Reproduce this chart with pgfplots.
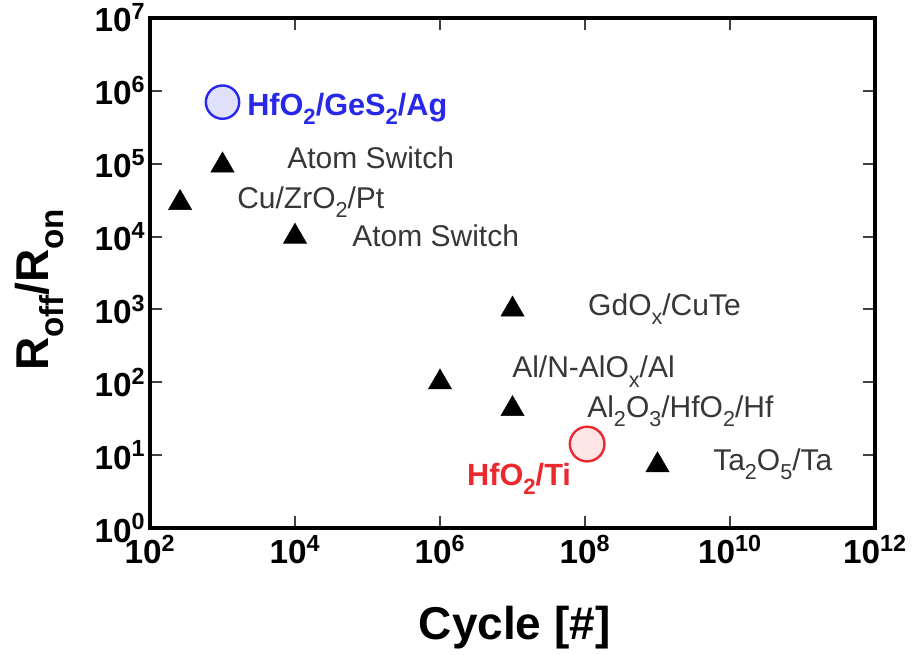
\documentclass[border=0pt]{standalone}
\usepackage{fontspec}
\setmainfont{Liberation Sans}
\usepackage{graphicx}
\usepackage{pgfplots}
\pgfplotsset{compat=1.18}
\definecolor{myblue}{RGB}{40,40,235}
\definecolor{myred}{RGB}{235,40,45}
\definecolor{lblgray}{RGB}{55,55,55}
\newcommand\sub[1]{\raisebox{-0.32em}{\scalebox{0.72}{#1}}}
\begin{document}
\begin{tikzpicture}
\useasboundingbox (0,0) rectangle (689.25pt,490.5pt);
\begin{axis}[
  at={(112.5pt,94.5pt)}, anchor=south west,
  width=543.75pt, height=382.5pt, scale only axis,
  xmode=log, ymode=log,
  xmin=1e2, xmax=1e12, ymin=1, ymax=1e7,
  xtick={1e2,1e4,1e6,1e8,1e10,1e12},
  xticklabels={10\textsuperscript{2},10\textsuperscript{4},10\textsuperscript{6},10\textsuperscript{8},10\textsuperscript{10},10\textsuperscript{12}},
  ytick={1,10,100,1000,1e4,1e5,1e6,1e7},
  yticklabels={10\textsuperscript{0},10\textsuperscript{1},10\textsuperscript{2},10\textsuperscript{3},10\textsuperscript{4},10\textsuperscript{5},10\textsuperscript{6},10\textsuperscript{7}},
  xminorticks=false, yminorticks=false,
  tick align=inside,
  major tick length=9pt,
  tick style={line width=1.4pt, color=black!75},
  axis line style={line width=3.5pt},
  ticklabel style={font=\bfseries\fontsize{25}{30}\selectfont},
  xticklabel style={yshift=-2pt},
  xlabel={Cycle [\#]},
  xlabel style={at={(axis description cs:0.503,-0.196)}, anchor=center, font=\bfseries\fontsize{34.5}{40}\selectfont},
  ylabel={R\sub{off}/R\sub{on}},
  ylabel style={at={(axis description cs:-0.152,0.467)}, anchor=center, font=\bfseries\fontsize{34.5}{40}\selectfont},
  clip=false,
]
\addplot[only marks, mark=triangle*, mark size=10pt, mark options={fill=black, draw=black}] coordinates {
  (1e3,9.5e4) (260,2.9e4) (1e4,1e4) (1e7,1e3) (1e6,100) (1e7,43) (1e9,7.3)
};
\addplot[only marks, mark=*, mark size=12.5pt, mark options={draw=myblue, line width=1.8pt, fill=myblue!14}] coordinates {(1e3,7e5)};
\addplot[only marks, mark=*, mark size=13pt, mark options={draw=myred, line width=1.8pt, fill=myred!12}] coordinates {(1.07e8,14.2)};

\begin{scope}[every node/.style={anchor=base west, inner sep=0pt}]
\node[font=\bfseries\fontsize{23}{28}\selectfont, text=myblue] at (axis cs:2178,4.66e5) {HfO\sub{2}/GeS\sub{2}/Ag};
\node[font=\fontsize{22.5}{27}\selectfont, text=lblgray] at (axis cs:7762,8.73e4) {Atom Switch};
\node[font=\fontsize{22.5}{27}\selectfont, text=lblgray] at (axis cs:1585,2.466e4) {Cu/ZrO\sub{2}/Pt};
\node[font=\fontsize{22.5}{27}\selectfont, text=lblgray] at (axis cs:6.11e4,7194) {Atom Switch};
\node[font=\fontsize{22.5}{27}\selectfont, text=lblgray] at (axis cs:1.099e8,837) {GdO\sub{x}/CuTe};
\node[font=\fontsize{22.5}{27}\selectfont, text=lblgray] at (axis cs:9.84e6,114.6) {Al/N-AlO\sub{x}/Al};
\node[font=\fontsize{22.5}{27}\selectfont, text=lblgray] at (axis cs:1.067e8,33.3) {Al\sub{2}O\sub{3}/HfO\sub{2}/Hf};
\node[font=\bfseries\fontsize{23}{28}\selectfont, text=myred] at (axis cs:2.355e6,3.89) {HfO\sub{2}/Ti};
\node[font=\fontsize{22.5}{27}\selectfont, text=lblgray] at (axis cs:5.83e9,6.25) {Ta\sub{2}O\sub{5}/Ta};
\end{scope}
\end{axis}
\end{tikzpicture}
\end{document}
